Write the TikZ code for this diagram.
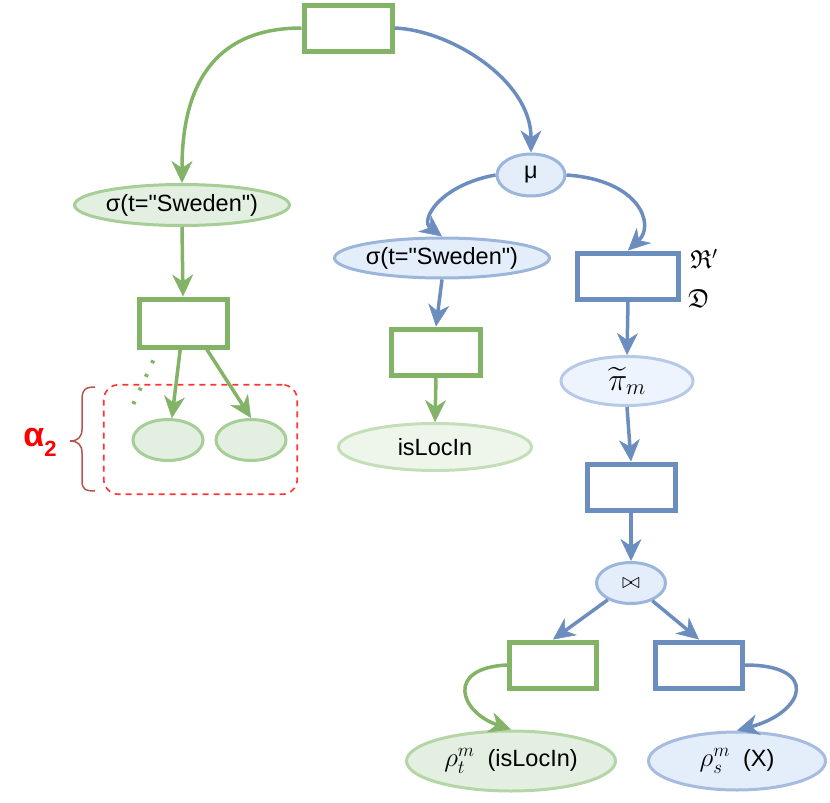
\RequirePackage{fix-cm}
\documentclass[tikz,border=0pt]{standalone}
\usepackage{fontspec}
\setmainfont{Liberation Sans}[Ligatures=TeXOff]
\usepackage{amssymb}
\usetikzlibrary{arrows.meta,shapes.geometric}
\definecolor{gLine}{HTML}{82B366}
\definecolor{bLine}{HTML}{6C8EBF}
\definecolor{gEs}{HTML}{A7CE96}
\definecolor{gEf}{HTML}{E3EFE0}
\definecolor{gEsL}{HTML}{C4DFB8}
\definecolor{gEfL}{HTML}{EEF6EC}
\definecolor{bEs}{HTML}{9CB5DB}
\definecolor{bEf}{HTML}{E4EDFA}
\definecolor{bEsL}{HTML}{B6CAE8}
\definecolor{bEfL}{HTML}{EEF4FD}
\definecolor{grpRed}{HTML}{FF3333}
\definecolor{braceCol}{HTML}{B85450}
\newcommand{\mathat}[2]{{\fontsize{#1}{#1}\selectfont$#2$}}
\begin{document}
\begin{tikzpicture}[x=1pt,y=-1pt,
  txt/.style={font=\fontsize{23.5}{27}\selectfont},
  grect/.style={draw=gLine, line width=5pt, fill=white, inner sep=0pt, minimum width=88pt, minimum height=46pt},
  brect/.style={draw=bLine, line width=5pt, fill=white, inner sep=0pt, minimum width=88pt, minimum height=46pt},
  gell/.style={ellipse, draw=gEs, fill=gEf, line width=3pt, inner sep=0pt, txt},
  gellL/.style={ellipse, draw=gEsL, fill=gEfL, line width=3pt, inner sep=0pt, txt},
  bell/.style={ellipse, draw=bEs, fill=bEf, line width=3pt, inner sep=0pt, txt},
  bellL/.style={ellipse, draw=bEsL, fill=bEfL, line width=3pt, inner sep=0pt, txt},
  ga/.style={draw=gLine, line width=3.5pt, -{Stealth[length=22pt,width=21pt,inset=7pt,line width=0.5pt]}},
  ba/.style={draw=bLine, line width=3.5pt, -{Stealth[length=22pt,width=21pt,inset=7pt,line width=0.5pt]}},
  grpbox/.style={draw=grpRed, line width=1.6pt, dash pattern=on 6pt off 5pt, rounded corners=15pt, inner sep=0pt},
]
\useasboundingbox (0,0) rectangle (830,803);

% group box (behind)
\node[grpbox, minimum width=193.5pt, minimum height=109.5pt] (grp) at (200.5,439.5) {};

% nodes
\node[grect] (top) at (348,28) {};
\node[gell, minimum width=208pt, minimum height=41pt] (lsel) at (182,205) {σ(t="Sweden")};
\node[grect, minimum height=48pt] (lgr) at (183,323) {};
\node[gell, minimum width=70pt, minimum height=41pt] (lel) at (168,440) {};
\node[gell, minimum width=70pt, minimum height=41pt] (rel) at (251,440) {};
\coordinate (dotend) at (132,407);

\node[bell, minimum width=68pt, minimum height=42pt] (mu) at (531,175) {μ};
\node[bell, minimum width=208pt, minimum height=40pt] (bsel) at (442,258) {σ(t="Sweden")};
\node[grect, minimum width=89pt] (mgr) at (436,352) {};
\node[gellL, minimum width=193pt, minimum height=47pt] (isl) at (435,447) {isLocIn};

\node[brect, minimum width=101pt] (br1) at (628,276) {};
\node[inner sep=0pt] (lblR) at (704,259) {\mathat{26}{\mathfrak{R}'}};
\node[inner sep=0pt] (lblD) at (699,299) {\mathat{26}{\mathfrak{D}}};
\node[bellL, minimum width=132pt, minimum height=49pt] (pim) at (627,381) {\mathat{32}{\widetilde{\pi}_m}};
\node[brect] (br2) at (631,487) {};
\node[bell, minimum width=69pt, minimum height=41pt] (join) at (631,583) {\mathat{22}{\bowtie}};
\node[grect, minimum width=87pt] (gb) at (553,665) {};
\node[brect, minimum width=87pt] (bb) at (699,665) {};
\node[gell, draw=gEs!85, minimum width=209pt, minimum height=60pt] (rt) at (511,761) {\mathat{27}{\rho_t^m}\ \ (isLocIn)};
\node[bell, draw=bEs!90, minimum width=177pt, minimum height=58pt] (rs) at (737,761) {\mathat{27}{\rho_s^m}\ \ (X)};

% alpha label
\node[inner sep=0pt, text=red] (alpha) at (40,442) {\fontsize{34}{38}\selectfont\bfseries α\raisebox{-10pt}{\fontsize{22}{22}\selectfont\bfseries 2}};

% brace
\draw[braceCol, line width=1.5pt]
  (95,387) .. controls (85,387) and (82,390) .. (82,400) -- (82,429)
  .. controls (82,437) and (78,441) .. (70,441)
  .. controls (78,441) and (82,445) .. (82,453) -- (82,481)
  .. controls (82,489) and (85,491) .. (95,491);

% green connectors
\draw[ga] (top.west) .. controls (220,28) and (182,78) .. (lsel.north);
\draw[ga] (lsel.south) -- (lgr.north);
\draw[ga] (lgr.-96) -- (lel.80);
\draw[ga] (lgr.-48) -- (rel.north);
\draw[gLine, line width=4pt, dash pattern=on 3pt off 12pt, dash phase=3pt] (lgr.-133) -- (dotend);

% blue connectors
\draw[ba] (top.east) .. controls (450,30) and (531,80) .. (mu.north);
\draw[ba] (mu.west) .. controls (440,185) and (420,220) .. (bsel.north);
\draw[ba] (mu.east) .. controls (640,180) and (655,225) .. (br1.north);
\draw[ba] (bsel.south) -- (mgr.north);
\draw[ga] (mgr.south) -- (isl.north);
\draw[ba] (br1.south) -- (pim.north);
\draw[ba] (pim.south) -- (br2.north);
\draw[ba] (br2.south) -- (join.north);
\draw[ba] (join) -- (gb.north);
\draw[ba] (join) -- (bb.north);
\draw[ga] (gb.west) .. controls (445,668) and (460,712) .. (rt.north);
\draw[ba] (bb.east) .. controls (820,665) and (805,712) .. (rs.north);
\end{tikzpicture}
\end{document}
